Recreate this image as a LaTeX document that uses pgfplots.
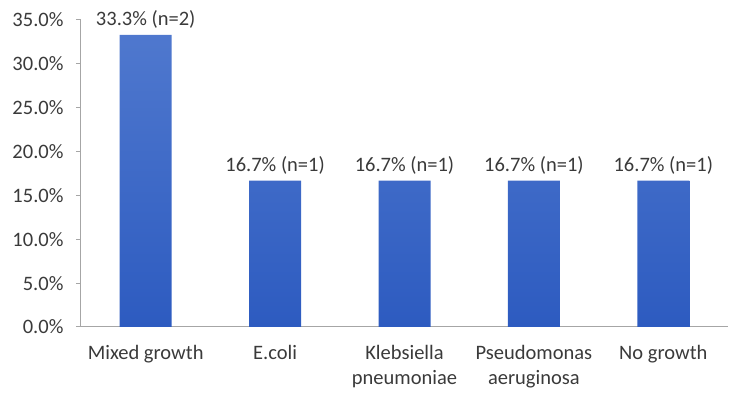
\documentclass[border=0pt]{standalone}
\usepackage{fontspec}
\setmainfont{Carlito}
\usepackage{pgfplots}
\pgfplotsset{compat=1.18}

\definecolor{txt}{HTML}{3A3A3A}
\definecolor{axisgray}{HTML}{A6A6A6}
\definecolor{bartop}{HTML}{4F78CE}
\definecolor{barbot}{HTML}{2D5BC0}

\begin{document}
\begin{tikzpicture}
\useasboundingbox (-81pt,-74pt) rectangle (669pt,327pt);
\begin{axis}[
    scale only axis,
    width=647pt, height=307pt,
    at={(0,0)}, anchor=south west,
    font=\fontsize{20.5}{25}\selectfont\color{txt},
    /pgf/number format/assume math mode=true,
    xmin=-0.5, xmax=4.5,
    ymin=0, ymax=35,
    axis x line*=bottom,
    axis y line*=left,
    axis line style={axisgray, line width=1pt, -},
    ytick={0,5,...,35},
    yticklabel={\pgfmathprintnumber[fixed,fixed zerofill,precision=1]{\tick}\%},
    y tick style={axisgray, line width=1pt},
    tick align=outside,
    major tick length=5pt,
    yticklabel style={xshift=-9pt},
    xtick={0,1,2,3,4},
    xticklabels={Mixed growth, E.coli, {Klebsiella\\pneumoniae}, {Pseudomonas\\aeruginosa}, No growth},
    x tick style={draw=none},
    xticklabel style={align=center, yshift=-10pt, text depth=0pt},
    extra x ticks={-0.5,0.5,1.5,2.5,3.5,4.5},
    extra x tick labels={},
    extra x tick style={tick style={draw=axisgray, line width=1pt}, major tick length=7pt},
    ybar, bar width=52pt,
    nodes near coords,
    point meta=explicit symbolic,
    every node near coord/.append style={font=\fontsize{20.5}{25}\selectfont\color{txt}, yshift=3pt},
    clip=false,
]
\addplot[draw=none, top color=bartop, bottom color=barbot] coordinates {
    (0,33.3) [33.3\% (n=2)]
    (1,16.7) [16.7\% (n=1)]
    (2,16.7) [16.7\% (n=1)]
    (3,16.7) [16.7\% (n=1)]
    (4,16.7) [16.7\% (n=1)]
};
\end{axis}
\end{tikzpicture}
\end{document}
